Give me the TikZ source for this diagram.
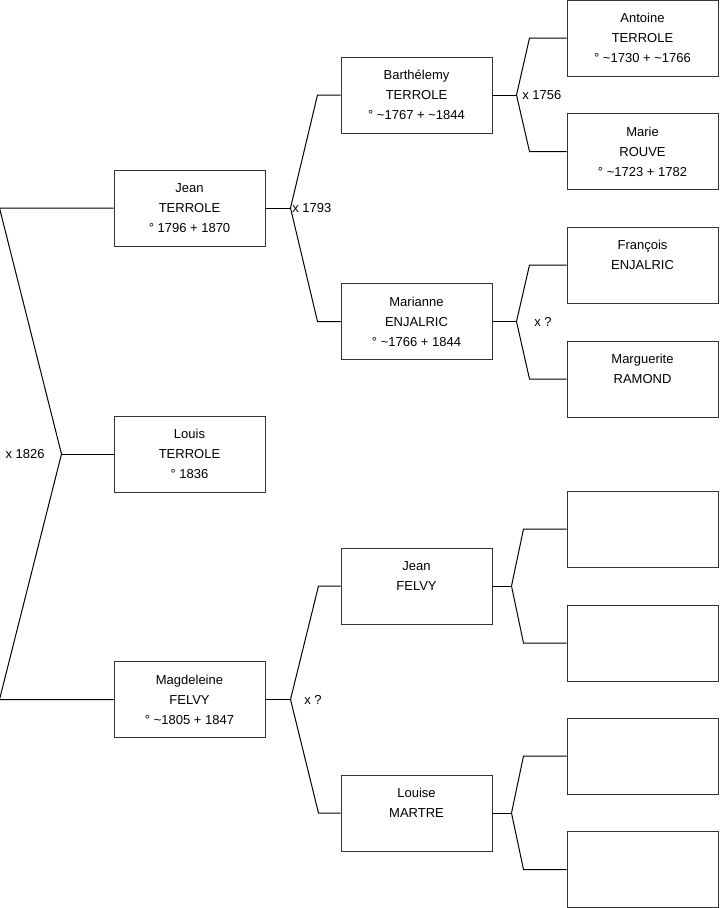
\documentclass[tikz,border=0pt]{standalone}
\usepackage{fontspec}
\setmainfont{Liberation Sans}
\usetikzlibrary{calc}

\begin{document}
\begin{tikzpicture}[x=0.75pt, y=-0.75pt, line width=0.75pt,
    every node/.style={font=\fontsize{9.75}{15}\selectfont},
    personne/.style={draw=black!80, minimum width=113.25pt, minimum height=57pt, align=center, inner sep=0pt},
    mariage/.style={anchor=west, inner sep=1pt}]

    \useasboundingbox (0,0) rectangle (719,908);

    % ==================== generation 1 ====================
    \node[personne] (jeanT) at (189.5,208) {Jean\\TERROLE\\° 1796 + 1870};
    \node[personne] (louisT) at (189.5,454) {Louis\\TERROLE\\° 1836};
    \node[personne] (magdeleineF) at (189.5,699.5) {Magdeleine\\FELVY\\° \textasciitilde1805 + 1847};

    % ==================== generation 2 ====================
    \node[personne] (barthelemyT) at (416.5,95) {Barthélemy\\TERROLE\\° \textasciitilde1767 + \textasciitilde1844};
    \node[personne] (marianneE) at (416.5,321.5) {Marianne\\ENJALRIC\\° \textasciitilde1766 + 1844};
    \node[personne] (jeanF) at (416.5,586) {Jean\\FELVY\\~};
    \node[personne] (louiseM) at (416.5,813) {Louise\\MARTRE\\~};

    % ==================== generation 3 ====================
    \node[personne] (antoineT) at (642.5,38) {Antoine\\TERROLE\\° \textasciitilde1730 + \textasciitilde1766};
    \node[personne] (marieR) at (642.5,151.5) {Marie\\ROUVE\\° \textasciitilde1723 + 1782};
    \node[personne] (francoisE) at (642.5,265) {François\\ENJALRIC\\~};
    \node[personne] (margueriteR) at (642.5,379) {Marguerite\\RAMOND\\~};
    \node[personne] (inconnuA) at (642.5,529) {};
    \node[personne] (inconnuB) at (642.5,643) {};
    \node[personne] (inconnuC) at (642.5,756) {};
    \node[personne] (inconnuD) at (642.5,869.5) {};

    % mariage 1826
    \draw (louisT.west) -- ++(-52,0) coordinate (u1826);
    \draw (jeanT.west) -- ++(-114,0) -- (u1826) -- ($(magdeleineF.west)+(-114,0)$) -- (magdeleineF.west);
    \node[anchor=east, inner sep=1pt] (x1826) at ($(u1826)+(-15,0)$) {x 1826};

    % mariage 1793
    \draw (jeanT.east) -- ++(25,0) coordinate (u1793);
    \draw (barthelemyT.west) -- ++(-23,0) -- (u1793) -- ($(marianneE.west)+(-23,0)$) -- (marianneE.west);
    \node[mariage] (x1793) at (u1793) {x 1793};

    % mariage Felvy / Martre
    \draw (magdeleineF.east) -- ++(25,0) coordinate (uFelvy);
    \draw (jeanF.west) -- ++(-22,0) -- (uFelvy) -- ($(louiseM.west)+(-22,0)$) -- (louiseM.west);
    \node[mariage] (xFelvy) at ($(uFelvy)+(12,0)$) {x ?};

    % mariage 1756
    \draw (barthelemyT.east) -- ++(24,0) coordinate (u1756);
    \draw (antoineT.west) -- ++(-37,0) -- (u1756) -- ($(marieR.west)+(-37,0)$) -- (marieR.west);
    \node[mariage] (x1756) at ($(u1756)+(4,0)$) {x 1756};

    % mariage Enjalric / Ramond
    \draw (marianneE.east) -- ++(24,0) coordinate (uEnjalric);
    \draw (francoisE.west) -- ++(-37,0) -- (uEnjalric) -- ($(margueriteR.west)+(-37,0)$) -- (margueriteR.west);
    \node[mariage] (xEnjalric) at ($(uEnjalric)+(16,0)$) {x ?};

    % parents inconnus
    \draw (jeanF.east) -- ++(19,0) coordinate (uJean);
    \draw (inconnuA.west) -- ++(-43,0) -- (uJean) -- ($(inconnuB.west)+(-43,0)$) -- (inconnuB.west);
    \draw (louiseM.east) -- ++(19,0) coordinate (uLouise);
    \draw (inconnuC.west) -- ++(-43,0) -- (uLouise) -- ($(inconnuD.west)+(-43,0)$) -- (inconnuD.west);

\end{tikzpicture}
\end{document}
